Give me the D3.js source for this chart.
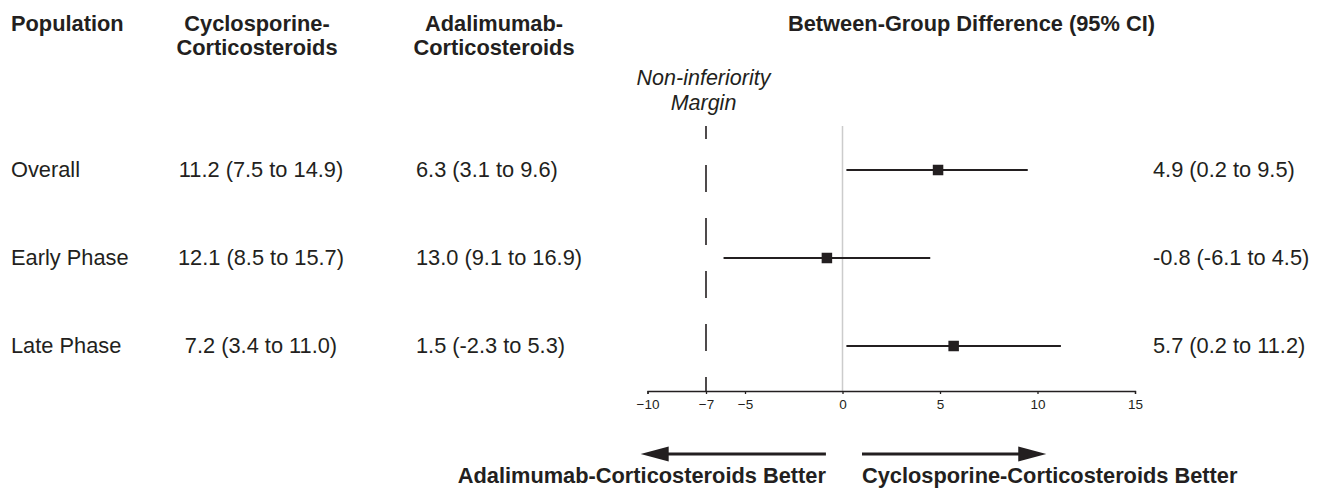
<!DOCTYPE html>
<html>
<head>
<meta charset="utf-8">
<script src="https://cdn.jsdelivr.net/npm/d3@7"></script>
<style>
  html, body { margin: 0; padding: 0; background: #fff; }
  svg text { font-family: "Liberation Sans", Arial, Helvetica, sans-serif; fill: #231f20; }
</style>
</head>
<body>
<svg id="chart" width="1323" height="488"></svg>
<script>
// ---- data ----
const populations = ["Overall", "Early Phase", "Late Phase"];
const cycloValues = ["11.2 (7.5 to 14.9)", "12.1 (8.5 to 15.7)", "7.2 (3.4 to 11.0)"];
const adaValues = ["6.3 (3.1 to 9.6)", "13.0 (9.1 to 16.9)", "1.5 (-2.3 to 5.3)"];
const diffEstimate = [4.9, -0.8, 5.7];
const diffLower = [0.2, -6.1, 0.2];
const diffUpper = [9.5, 4.5, 11.2];
const tickValues = [-10, -7, -5, 0, 5, 10, 15];
const nonInferiorityMargin = -7;
const headers = {
  population: ["Population"],
  cyclo: ["Cyclosporine-", "Corticosteroids"],
  ada: ["Adalimumab-", "Corticosteroids"],
  diff: ["Between-Group Difference (95% CI)"],
  margin: ["Non-inferiority", "Margin"]
};
const favorLeft = "Adalimumab-Corticosteroids Better";
const favorRight = "Cyclosporine-Corticosteroids Better";

// ---- layout ----
const ink = "#231f20";
const svg = d3.select("#chart");
const x = d3.scaleLinear().domain([-10, 15]).range([647.5, 1135]);
const y = d3.scalePoint().domain(populations).range([170, 346]);
const axisY = 391;
const refTop = 126;
const fs = 21.8, fsBold = 21.8;

const rows = populations.map((p, i) => ({
  pop: p, cyclo: cycloValues[i], ada: adaValues[i],
  est: diffEstimate[i], lo: diffLower[i], hi: diffUpper[i]
}));

// headers
function multiline(lines, xPos, y0, lh, anchor, weight, style, size) {
  const t = svg.append("text")
    .attr("x", xPos).attr("y", y0)
    .attr("text-anchor", anchor)
    .attr("font-weight", weight)
    .attr("font-style", style)
    .attr("font-size", size);
  lines.forEach((l, i) => t.append("tspan").attr("x", xPos).attr("y", y0 + i * lh).text(l));
}
multiline(headers.population, 11, 31, 24, "start", "bold", "normal", fsBold);
multiline(headers.cyclo, 257, 31, 24, "middle", "bold", "normal", fsBold);
multiline(headers.ada, 494, 31, 24, "middle", "bold", "normal", fsBold);
multiline(headers.diff, 971.5, 31, 24, "middle", "bold", "normal", fsBold);
multiline(headers.margin, x(nonInferiorityMargin) - 2.5, 85, 25, "middle", "normal", "italic", 21.5);

// zero reference line
svg.append("line")
  .attr("x1", x(0)).attr("x2", x(0))
  .attr("y1", refTop).attr("y2", axisY)
  .attr("stroke", "#cccccc").attr("stroke-width", 1.5);

// non-inferiority margin dashed line
svg.append("line")
  .attr("x1", x(nonInferiorityMargin)).attr("x2", x(nonInferiorityMargin))
  .attr("y1", refTop).attr("y2", axisY)
  .attr("stroke", ink).attr("stroke-width", 1.6)
  .attr("stroke-dasharray", "27 26")
  .attr("stroke-dashoffset", 14);

// axis
const axis = d3.axisBottom(x).tickValues(tickValues).tickSize(3).tickSizeOuter(3).tickPadding(5);
const gAxis = svg.append("g").attr("transform", `translate(0,${axisY})`).call(axis);
gAxis.select(".domain").attr("stroke", ink).attr("stroke-width", 1.3);
gAxis.selectAll(".tick line").attr("stroke", ink).attr("stroke-width", 1.3);
gAxis.selectAll(".tick text").attr("font-size", 13.5).attr("fill", ink)
  .style("font-family", "'Liberation Sans', Arial, sans-serif");

// row texts
const rowG = svg.selectAll("g.row").data(rows).join("g").attr("class", "row");
rowG.append("text").attr("x", 11).attr("y", d => y(d.pop)).attr("dy", "0.3em")
  .attr("font-size", fs).text(d => d.pop);
rowG.append("text").attr("x", 261).attr("y", d => y(d.pop)).attr("dy", "0.3em")
  .attr("text-anchor", "middle").attr("font-size", fs).text(d => d.cyclo);
rowG.append("text").attr("x", 416).attr("y", d => y(d.pop)).attr("dy", "0.3em")
  .attr("font-size", fs).text(d => d.ada);
rowG.append("text").attr("x", 1153).attr("y", d => y(d.pop)).attr("dy", "0.3em")
  .attr("font-size", fs)
  .text(d => `${d.est.toFixed(1)} (${d.lo.toFixed(1)} to ${d.hi.toFixed(1)})`);

// CI lines and point estimates
rowG.append("line")
  .attr("x1", d => x(d.lo)).attr("x2", d => x(d.hi))
  .attr("y1", d => y(d.pop)).attr("y2", d => y(d.pop))
  .attr("stroke", ink).attr("stroke-width", 2);
const sq = 10.5;
rowG.append("rect")
  .attr("x", d => x(d.est) - sq / 2).attr("y", d => y(d.pop) - sq / 2)
  .attr("width", sq).attr("height", sq)
  .attr("fill", ink);

// direction arrows
const arrowY = 454;
const headLen = 28, headHalf = 7.5;
function arrow(fromV, toV) {
  const x1 = x(fromV), x2 = x(toV);
  const dir = Math.sign(x2 - x1);
  svg.append("line")
    .attr("x1", x1).attr("x2", x2 - dir * headLen + dir * 1)
    .attr("y1", arrowY).attr("y2", arrowY)
    .attr("stroke", ink).attr("stroke-width", 3);
  svg.append("path")
    .attr("d", `M${x2},${arrowY} L${x2 - dir * headLen},${arrowY - headHalf} L${x2 - dir * headLen},${arrowY + headHalf} Z`)
    .attr("fill", ink);
}
arrow(-0.85, -10.35);
arrow(1.0, 10.45);

svg.append("text").attr("x", x(-0.85)).attr("y", 483)
  .attr("text-anchor", "end").attr("font-weight", "bold").attr("font-size", fsBold)
  .text(favorLeft);
svg.append("text").attr("x", x(1.0)).attr("y", 483)
  .attr("text-anchor", "start").attr("font-weight", "bold").attr("font-size", fsBold)
  .text(favorRight);
</script>
</body>
</html>
